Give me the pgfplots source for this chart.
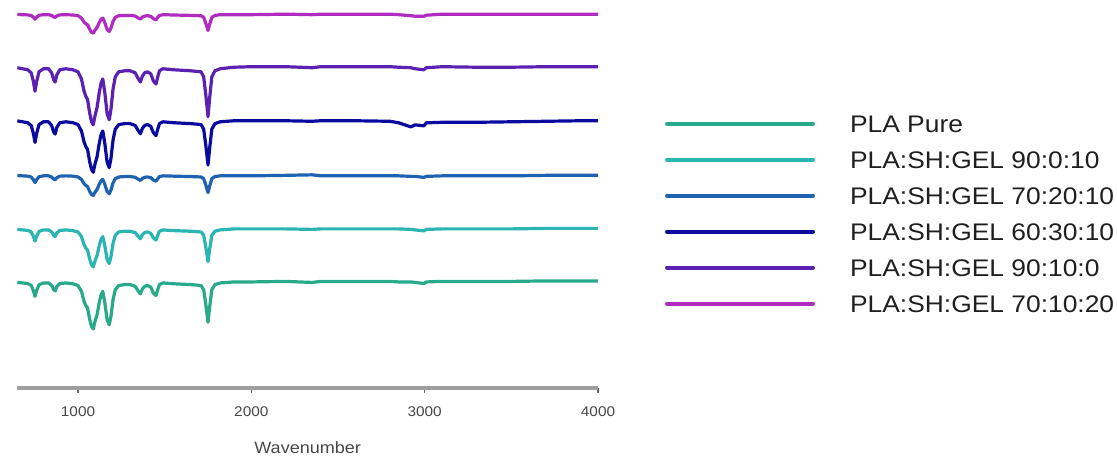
\documentclass[border=0pt]{standalone}
\usepackage{fontspec}
\setmainfont{Liberation Sans}[FakeStretch=1.1]
\usepackage{pgfplots}
\usepackage{pgfplotstable}
\pgfplotsset{compat=1.18}
\definecolor{cGreen}{HTML}{27A98A}
\definecolor{cCyan}{HTML}{2BB5B2}
\definecolor{cBlue}{HTML}{1F63B0}
\definecolor{cDkBlue}{HTML}{0A0A9E}
\definecolor{cPurple}{HTML}{5B22B2}
\definecolor{cMagenta}{HTML}{B02CC0}
\pgfplotstableread{
w P DB G C B M
650 314 261.9 103.6 155.5 208.3 366.2
680 313 261 103 155 208 366
710 312 260.1 102.4 154.5 207.7 365.8
730 309 257.3 100.6 153 206.8 365.2
742 301 250.0 95.8 149 204.4 363.6
752 291 240.8 89.8 144 201.4 361.6
762 301 250.0 95.8 149 204.4 363.6
775 310 258.2 101.2 153.5 207.1 365.4
800 313 261 103 155 208 366
830 313 261 103 155 208 366
848 309 257.3 100.6 153 206.8 365.2
860 302 250.9 96.4 149.5 204.7 363.8
868 300 249.0 95.2 148.5 204.1 363.4
878 307 255.5 99.4 152 206.2 364.8
895 312 260.1 102.4 154.5 207.7 365.8
930 313 261 103 155 208 366
970 312 260.1 102.2 154.3 207.7 365.7
1000 310 258.3 100.5 153.0 206.9 365.0
1020 303 252 94.8 148.4 204.5 362.7
1035 291 241.2 85.0 140.5 200.3 358.7
1045 286 236.7 80.9 137.2 198.6 357.1
1055 283 234 78.4 135.2 197.5 356.1
1068 269 221.4 66.9 126.0 192.6 351.5
1078 261 214.2 60.4 120.7 189.8 348.8
1088 258 211.5 57.9 118.7 188.8 347.9
1098 267 219.6 65.3 124.6 191.9 350.8
1110 275 226.8 71.8 129.9 194.7 353.5
1122 289 239.4 83.3 139.2 199.6 358.1
1133 299 248.4 91.5 145.8 203.1 361.4
1143 303 252 94.8 148.4 204.5 362.7
1155 289 239.4 83.3 139.2 199.6 358.1
1168 269 221.4 66.9 126.0 192.6 351.5
1180 263 216 62 122 190.5 349.5
1190 273 225 70.2 128.6 194 352.8
1202 293 243 86.6 141.8 201 359.4
1215 305 253.8 96.4 149.7 205.2 363.4
1235 310 258.3 100.5 153 206.9 365
1270 311 259.2 101.4 153.7 207.3 365.3
1300 311 259.2 101.4 153.7 207.3 365.3
1330 309 257.4 99.7 152.4 206.6 364.7
1345 304 252.9 95.6 149.1 204.9 363
1360 300 249.3 92.3 146.4 203.5 361.7
1372 306 254.7 97.3 150.4 205.6 363.7
1385 309 257.4 99.7 152.4 206.6 364.7
1400 310 258.3 100.5 153 206.9 365
1420 308 256.5 98.9 151.7 206.3 364.4
1435 301 250.2 93.2 147.1 203.8 362
1450 298 247.5 90.7 145.1 202.8 361
1460 305 253.8 96.4 149.7 205.2 363.4
1470 311 259.2 101.4 153.7 207.3 365.3
1490 313 261 103 155 208 366
1550 312 260.1 102.2 154.3 207.7 365.7
1650 311 259.2 101.4 153.7 207.3 365.3
1710 310 258.3 100.5 153 206.9 365
1725 305 253.8 96.4 149.7 205.2 363.4
1737 288 238.5 82.5 138.5 199.3 357.8
1750 266 218.7 64.5 124 191.6 350.5
1760 285 235.8 80 136.5 198.2 356.8
1772 305 253.8 96.4 149.7 205.2 363.4
1790 311 259.2 101.4 153.7 207.3 365.3
1820 313 261 103 155 208 366
1900 314.5 262 104 156 208 366
2000 315 262 104 156 208 366
2200 315 262 104.5 156 208.5 366.5
2350 314 261.5 103.5 155.5 209 366
2400 315 262 104.5 156 208 366.5
2600 315 262 104.5 156 208 366.5
2800 315 261.5 104.5 156 208 366.5
2850 314.5 260 104 156 208 366
2920 314 256 104 155.5 207.5 365
2945 313 258 103.5 155 207.5 364.5
2995 312 257 102.5 154 206.5 364.5
3010 314 260 104 155.5 207.5 365.5
3100 315 260.5 104.5 156 208 366.5
3300 314.5 260.5 104.5 156 208 366.5
3500 314.5 261 104.5 156 208 366.5
3700 315 261.5 105 156.5 208.5 366.5
3900 315 262 105 156.5 208.5 366.5
4000 315 262 105 156.5 208.5 366.5
}\spectra
\begin{document}
\begin{tikzpicture}
\useasboundingbox (0,0) rectangle (558.5pt,228.5pt);
\begin{axis}[
  at={(8.67pt,34.5pt)}, anchor=south west,
  scale only axis, width=290.33pt, height=194pt,
  xmin=650, xmax=4000, ymin=0, ymax=388,
  clip=false,
  axis y line=none,
  axis x line*=bottom,
  x axis line style={draw=black!38, line width=1.8pt},
  xtick={1000,2000,3000,4000},
  tick align=outside,
  major tick length=2.5pt,
  x tick style={draw=black!60, line width=0.6pt},
  /pgf/number format/assume math mode=true,
  /pgf/number format/1000 sep={},
  xticklabel style={font=\fontsize{7}{8}\selectfont, text=black!72, anchor=center, yshift=-9.5pt},
  xlabel={Wavenumber},
  xlabel style={at={(axis description cs:0.5,0)}, anchor=center, yshift=-30pt, font=\fontsize{8.2}{10}\selectfont, text=black!72},
  legend cell align=left,
  legend image code/.code={\draw[line width=2pt, line cap=round] (1pt,0pt) -- (74pt,0pt);},
  legend style={at={(axis description cs:1.1154,0.7051)}, anchor=north west, draw=none, fill=none, inner sep=0pt, outer sep=0pt,
    font=\fontsize{12}{14}\selectfont, text=black!88, row sep=3.4pt,
    nodes={inner sep=0pt, text height=11.6pt, text depth=3pt},
    /tikz/every odd column/.append style={column sep=17.5pt}},
]
\addplot[cGreen, line width=1.6pt, line join=round] table[x=w,y=G] {\spectra};
\addlegendentry{PLA Pure}
\addplot[cCyan, line width=1.6pt, line join=round] table[x=w,y=C] {\spectra};
\addlegendentry{PLA:SH:GEL 90:0:10}
\addplot[cBlue, line width=1.6pt, line join=round] table[x=w,y=B] {\spectra};
\addlegendentry{PLA:SH:GEL 70:20:10}
\addplot[cDkBlue, line width=1.6pt, line join=round] table[x=w,y=DB] {\spectra};
\addlegendentry{PLA:SH:GEL 60:30:10}
\addplot[cPurple, line width=1.6pt, line join=round] table[x=w,y=P] {\spectra};
\addlegendentry{PLA:SH:GEL 90:10:0}
\addplot[cMagenta, line width=1.6pt, line join=round] table[x=w,y=M] {\spectra};
\addlegendentry{PLA:SH:GEL 70:10:20}
\end{axis}
\end{tikzpicture}
\end{document}
